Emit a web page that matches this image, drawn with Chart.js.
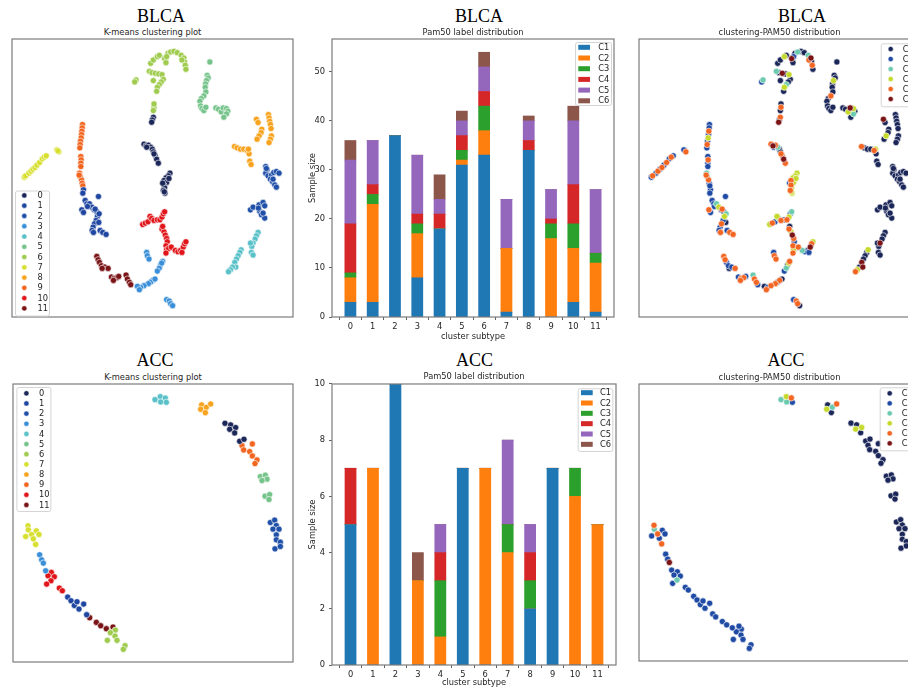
<!DOCTYPE html>
<html><head><meta charset="utf-8">
<script src="https://cdn.jsdelivr.net/npm/chart.js@4/dist/chart.umd.min.js"></script>
<style>
html,body{margin:0;padding:0;background:#fff;overflow:hidden;width:908px;height:687px;}
#wrap{position:relative;width:908px;height:687px;overflow:hidden;background:#fff;}
canvas{position:absolute;}
.big{position:absolute;font-family:"Liberation Serif","DejaVu Serif",serif;font-size:18px;color:#000;transform:translate(-50%,-50%);white-space:nowrap;line-height:1;}
.sub{position:absolute;font-family:"DejaVu Sans",sans-serif;font-size:8.3px;color:#262626;transform:translate(-50%,-50%);white-space:nowrap;line-height:1;}
</style></head>
<body><div id="wrap"></div>
<script>
// ---------------- DATA ----------------
const subtypes = [0,1,2,3,4,5,6,7,8,9,10,11];
const pamLabels = ['C1','C2','C3','C4','C5','C6'];
const clusterLabels = ['0','1','2','3','4','5','6','7','8','9','10','11'];

// BLCA Pam50 label distribution (stacked counts per cluster subtype)
const blcaC1 = [3,3,37,8,18,31,33,1,34,0,3,1];
const blcaC2 = [5,20,0,9,0,1,5,13,0,16,11,10];
const blcaC3 = [1,2,0,2,0,2,5,0,0,3,5,2];
const blcaC4 = [10,2,0,2,3,3,3,0,2,1,8,0];
const blcaC5 = [13,9,0,12,3,3,5,10,4,6,13,13];
const blcaC6 = [4,0,0,0,5,2,3,0,1,0,3,0];
const blcaYTicks = [0,10,20,30,40,50];
const blcaYMax = 56.7;

// ACC Pam50 label distribution
const accC1 = [5,0,10,0,0,7,0,0,2,7,0,0];
const accC2 = [0,7,0,3,1,0,7,4,0,0,6,5];
const accC3 = [0,0,0,0,2,0,0,1,1,0,1,0];
const accC4 = [2,0,0,0,1,0,0,0,1,0,0,0];
const accC5 = [0,0,0,0,1,0,0,3,1,0,0,0];
const accC6 = [0,0,0,1,0,0,0,0,0,0,0,0];
const accYTicks = [0,2,4,6,8,10];
const accYMax = 10;

// BLCA embedding points per k-means cluster: [dim1, dim2, pam50 label index 1..6]
const blcaK0 = [[460,262,5],[457,270,1],[455,277,6],[432,343,5],[438,348,6],[445,346,5],[452,352,3],[457,358,1],[460,366,1],[465,376,5],[470,388,6],[475,400,5],[510,430,4],[505,438,4],[498,444,4],[492,452,5],[500,458,4],[492,466,5],[494,474,4],[490,482,5],[495,490,4],[488,460,2],[440,352,2],[462,372,5],[507,446,4],[493,486,4]];
const blcaK1 = [[250,480,2],[248,490,2],[255,512,2],[260,522,2],[245,540,5],[250,548,2],[268,522,3],[275,532,4],[282,540,2],[290,546,2],[295,500,2],[292,560,4],[288,572,2],[283,582,5],[279,592,2],[276,602,2],[280,608,5],[300,602,2],[308,608,5],[318,614,5],[296,578,1],[262,530,2],[297,552,3],[285,538,5]];
const blcaK2 = [[798,410,1],[802,420,1],[798,430,1],[805,438,1],[815,436,1],[822,428,1],[830,425,1],[838,430,1],[812,448,1],[818,455,1],[825,465,1],[830,472,1],[752,540,1],[760,532,1],[778,525,1],[790,518,1],[795,528,1],[780,545,1],[785,555,1],[795,565,1],[790,550,1],[776,535,1],[800,416,1],[820,448,1]];
const blcaK3 = [[440,668,2],[442,678,5],[447,688,5],[488,695,5],[482,705,1],[478,715,3],[472,724,2],[458,752,5],[452,757,2],[445,762,5],[432,768,5],[422,773,2],[412,770,1],[418,780,5],[500,810,2],[508,814,5],[512,822,5],[518,828,1],[465,748,1],[485,700,4]];
const blcaK4 = [[775,608,1],[770,618,1],[766,628,1],[760,640,6],[756,650,1],[755,668,1],[760,676,1],[724,660,4],[720,668,1],[715,678,1],[710,688,1],[705,698,6],[708,712,6],[698,712,1],[692,720,4],[686,726,5],[752,640,1]];
const blcaK5 = [[630,96,1],[622,136,1],[625,144,1],[620,152,4],[617,162,1],[616,172,1],[618,186,1],[612,198,5],[604,206,1],[600,214,1],[602,228,1],[606,236,1],[612,242,1],[618,232,1],[648,234,1],[656,238,1],[664,246,4],[670,234,6],[680,236,4],[684,244,1],[680,252,3],[672,262,1]];
const blcaK6 = [[408,150,3],[404,156,2],[448,124,3],[456,128,1],[452,100,1],[460,90,1],[466,130,6],[476,132,1],[486,134,4],[490,148,1],[484,156,1],[478,164,3],[472,172,4],[470,184,1],[460,152,1],[472,80,4],[478,76,1],[494,86,6],[498,98,1],[504,70,1],[512,66,3],[522,64,1],[532,68,1],[544,76,3],[552,84,6],[554,96,1],[556,106,5],[558,118,1],[462,232,5],[460,242,1],[462,222,1],[500,80,2],[546,90,5]];
const blcaK7 = [[72,442,2],[76,438,5],[86,430,2],[92,424,5],[98,418,2],[104,413,5],[110,406,2],[118,398,5],[126,387,2],[132,382,5],[138,378,2],[170,360,2],[176,366,5],[173,363,1]];
const blcaK8 = [[770,268,6],[775,278,1],[806,254,1],[808,264,1],[810,274,1],[812,284,1],[814,296,1],[815,318,1],[812,328,1],[808,338,1],[786,298,1],[784,308,1],[778,318,4],[772,328,1],[704,350,5],[712,354,1],[722,358,1],[732,358,1],[742,362,5],[748,372,1],[750,394,1],[754,404,1],[746,358,4]];
const blcaK9 = [[247,284,2],[246,294,2],[245,304,5],[244,314,2],[243,324,4],[241,334,2],[240,344,5],[239,354,2],[242,380,2],[243,390,5],[242,400,2],[242,410,2],[238,430,3],[240,440,3],[244,450,5],[246,460,2],[248,468,2],[237,436,5]];
const blcaK10 = [[428,584,4],[436,580,5],[444,576,2],[450,560,4],[455,566,3],[462,572,5],[472,570,2],[480,570,5],[486,562,4],[490,552,2],[494,546,3],[486,598,5],[492,606,4],[496,616,6],[500,626,5],[502,636,2],[498,648,5],[500,660,4],[506,656,3],[514,652,5],[526,662,3],[534,666,2],[542,662,1],[550,652,6],[554,642,5],[558,636,4],[488,590,1],[498,670,5],[546,668,2]];
const blcaK11 = [[290,680,5],[294,690,5],[298,698,2],[304,708,2],[314,712,2],[324,716,5],[334,742,2],[342,746,5],[350,744,5],[356,740,2],[378,736,3],[382,748,5],[388,758,5],[392,765,2],[340,752,5],[306,716,1]];

// ACC embedding points per k-means cluster: [dim1, dim2, pam50 label index 1..6]
const accK0 = [[676,160,1],[693,165,1],[708,173,4],[690,178,4],[705,189,1],[720,214,1],[733,208,1]];
const accK1 = [[204,682,2],[214,693,2],[224,707,2],[232,696,2],[238,718,2],[252,703,2],[261,735,2]];
const accK2 = [[812,458,1],[825,451,1],[830,467,1],[820,478,1],[838,478,1],[830,495,1],[830,510,1],[842,517,1],[826,537,1],[842,530,1]];
const accK3 = [[120,555,2],[126,570,2],[131,580,6],[138,603,2]];
const accK4 = [[466,89,3],[482,80,4],[497,84,5],[483,96,3],[500,97,2]];
const accK5 = [[782,320,1],[797,316,1],[802,328,1],[787,332,1],[796,379,1],[810,374,1],[808,389,1]];
const accK6 = [[347,781,2],[332,789,2],[346,799,2],[323,812,2],[352,812,2],[376,828,2],[371,839,2]];
const accK7 = [[85,468,5],[86,480,3],[78,500,2],[96,494,5],[110,483,2],[118,494,2],[101,507,2],[108,524,5]];
const accK8 = [[606,105,1],[620,112,3],[633,102,5],[603,118,4],[617,128,1]];
const accK9 = [[727,227,1],[758,222,1],[732,240,1],[750,245,1],[758,258,1],[772,270,1],[766,281,1]];
const accK10 = [[155,608,2],[145,618,2],[164,621,2],[154,633,3],[141,643,2],[179,655,2],[188,663,2]];
const accK11 = [[270,744,2],[290,758,2],[303,768,2],[320,777,2],[340,772,2]];

const blcaRangeX = [35,880], blcaRangeY = [27,862];
const accRangeX = [40,880], accRangeY = [42,877];

// ---------------- STYLE ----------------
const barColors = ['#1f77b4','#ff7f0e','#2ca02c','#d62728','#9467bd','#8c564b'];
const kmColors = ['#1c2759','#1f46a0','#2150a8','#3a8fd8','#5bc1c9','#76c48b','#9fcb4e','#d7df2f','#f8a31d','#f2651f','#e0161b','#7a1416'];
const pamColors = ['#1c2759','#1f4ba5','#6ccab0','#c5d92d','#f26522','#7a1416'];
const FONT = 'DejaVu Sans';

Chart.defaults.font.family = FONT;
Chart.defaults.font.size = 8.3;
Chart.defaults.color = '#262626';

const wrap = document.getElementById('wrap');
function makeCanvas(l,t,w,h){
  const c = document.createElement('canvas');
  c.width = w; c.height = h;
  c.style.left = l+'px'; c.style.top = t+'px';
  c.style.width = w+'px'; c.style.height = h+'px';
  wrap.appendChild(c); return c;
}
function addText(cls, txt, x, y){
  const d = document.createElement('div');
  d.className = cls; d.textContent = txt;
  d.style.left = x+'px'; d.style.top = y+'px';
  wrap.appendChild(d);
}

const framePlugin = {
  id:'frame',
  afterDraw(chart){
    const {ctx, chartArea:a} = chart;
    ctx.save(); ctx.strokeStyle = '#7c7c7c'; ctx.lineWidth = 1.2;
    ctx.strokeRect(a.left, a.top, a.right-a.left, a.bottom-a.top);
    ctx.restore();
  }
};
const legendPlugin = {
  id:'mplLegend',
  afterDraw(chart, args, o){
    if(!o || !o.items) return;
    const ctx = chart.ctx, a = chart.chartArea;
    const n = o.items.length, w = o.width, h = o.height;
    let x, y;
    if(o.corner === 'll'){ x = a.left + o.dx; y = a.bottom - o.dy - h; }
    else if(o.corner === 'ul'){ x = a.left + o.dx; y = a.top + o.dy; }
    else { x = a.right - o.dx - w; y = a.top + o.dy; }
    ctx.save();
    ctx.beginPath();
    if(ctx.roundRect) ctx.roundRect(x+0.5, y+0.5, w, h, 2); else ctx.rect(x+0.5,y+0.5,w,h);
    ctx.fillStyle = 'rgba(255,255,255,0.85)'; ctx.fill();
    ctx.strokeStyle = '#d4d4d4'; ctx.lineWidth = 1; ctx.stroke();
    ctx.font = '8.3px "DejaVu Sans"'; ctx.textBaseline = 'middle'; ctx.textAlign = 'left';
    for(let i=0;i<n;i++){
      const it = o.items[i];
      const cy = y + o.first + i*o.rowH;
      if(o.shape === 'rect'){
        ctx.fillStyle = it.color;
        ctx.fillRect(x + o.markerX, cy - 2.5, 11.7, 5);
      } else {
        ctx.beginPath(); ctx.arc(x + o.markerX, cy, 2.6, 0, Math.PI*2);
        ctx.fillStyle = it.color; ctx.fill();
        ctx.strokeStyle = '#fff'; ctx.lineWidth = 0.5; ctx.stroke();
      }
      ctx.fillStyle = '#262626';
      ctx.fillText(it.label, x + o.textX, cy + 0.5);
    }
    ctx.restore();
  }
};

function toXY(arr){ return arr.map(p => ({x:p[0], y:p[1]})); }

function scatterPanel(box, xr, yr, datasets, legend){
  const c = makeCanvas(box[0]-1, box[1]-1, box[2]+2, box[3]+2);
  new Chart(c, {
    type:'scatter',
    data:{datasets},
    options:{
      responsive:false, animation:false, events:[],
      layout:{padding:1, autoPadding:false},
      scales:{
        x:{type:'linear', display:false, min:xr[0], max:xr[1]},
        y:{type:'linear', display:false, min:yr[0], max:yr[1], reverse:true}
      },
      plugins:{legend:{display:false}, tooltip:{enabled:false}, mplLegend:legend}
    },
    plugins:[framePlugin, legendPlugin]
  });
}
function pointStyle(color){
  return {backgroundColor:color, borderColor:'#ffffff', pointRadius:3.1, pointBorderWidth:0.6, pointBackgroundColor:color, pointBorderColor:'#ffffff'};
}
function kmDatasets(clusters){
  return clusters.map((pts,k)=>Object.assign({label:clusterLabels[k], data:toXY(pts)}, pointStyle(kmColors[k])));
}
function pamDatasets(clusters){
  const all = [].concat(...clusters);
  return pamLabels.map((lab,k)=>Object.assign({label:lab, order:6-k,
    data: toXY(all.filter(p => p[2] === k+1))}, pointStyle(pamColors[k])));
}

function barPanel(cv, pad, xH, xTickPad, xTitlePad, series, yMax, yTicks, legend){
  const c = makeCanvas(cv[0], cv[1], cv[2], cv[3]);
  const datasets = series.map((vals,k)=>({
    label:pamLabels[k],
    data: subtypes.map((s,i)=>({x:s, y:vals[i]})),
    backgroundColor: barColors[k], borderWidth:0, barThickness:11.1
  }));
  new Chart(c, {
    type:'bar',
    data:{datasets},
    options:{
      responsive:false, animation:false, events:[],
      layout:{padding:pad, autoPadding:false},
      scales:{
        x:{type:'linear', min:-0.825, max:11.825, stacked:true, offset:false,
           grid:{display:true, drawOnChartArea:false, drawTicks:true, tickLength:3, color:'#3a3a3a', lineWidth:0.8},
           border:{display:false},
           ticks:{padding:xTickPad, autoSkip:false, maxRotation:0, color:'#262626', font:{family:FONT, size:8.3}},
           afterBuildTicks: s => { s.ticks = subtypes.map(v => ({value:v})); },
           afterFit: s => { s.height = xH; },
           title:{display:true, text:'cluster subtype', color:'#262626', font:{family:FONT, size:8.3}, padding:{top:0, bottom:xTitlePad}}
        },
        y:{type:'linear', min:0, max:yMax, stacked:true,
           grid:{display:true, drawOnChartArea:false, drawTicks:true, tickLength:3, color:'#3a3a3a', lineWidth:0.8},
           border:{display:false},
           ticks:{padding:4, color:'#262626', font:{family:FONT, size:8.3}},
           afterBuildTicks: s => { s.ticks = yTicks.map(v => ({value:v})); },
           afterFit: s => { s.width = 32; },
           title:{display:true, text:'Sample size', color:'#262626', font:{family:FONT, size:8.3}, padding:{top:7.7, bottom:0}}
        }
      },
      plugins:{legend:{display:false}, tooltip:{enabled:false}, mplLegend:legend}
    },
    plugins:[framePlugin, legendPlugin]
  });
}

const blcaClusters = [blcaK0,blcaK1,blcaK2,blcaK3,blcaK4,blcaK5,blcaK6,blcaK7,blcaK8,blcaK9,blcaK10,blcaK11];
const accClusters = [accK0,accK1,accK2,accK3,accK4,accK5,accK6,accK7,accK8,accK9,accK10,accK11];
const kmItems = clusterLabels.map((l,i)=>({label:l, color:kmColors[i]}));
const pamItems = pamLabels.map((l,i)=>({label:l, color:pamColors[i]}));
const barItems = pamLabels.map((l,i)=>({label:l, color:barColors[i]}));

// ---- top row: BLCA ----
scatterPanel([12,39,281,278], blcaRangeX, blcaRangeY, kmDatasets(blcaClusters),
  {items:kmItems, corner:'ll', dx:3, dy:1.5, width:34, height:125, first:4.9, rowH:10.27, markerX:9.3, textX:22.5, shape:'circle'});
barPanel([300,30,330,320], {left:0, top:9, right:16, bottom:0}, 33, 1.5, 8,
  [blcaC1,blcaC2,blcaC3,blcaC4,blcaC5,blcaC6], blcaYMax, blcaYTicks,
  {items:barItems, corner:'ur', dx:3, dy:3, width:36, height:63, first:5.3, rowH:10.7, markerX:3.3, textX:23.3, shape:'rect'});
scatterPanel([639,39,281,278], blcaRangeX, blcaRangeY, pamDatasets(blcaClusters),
  {items:pamItems, corner:'ur', dx:2.3, dy:4.3, width:37, height:63, first:5.7, rowH:10, markerX:10, textX:22, shape:'circle'});

// ---- bottom row: ACC ----
scatterPanel([13,384,280,278], accRangeX, accRangeY, kmDatasets(accClusters),
  {items:kmItems, corner:'ul', dx:3.4, dy:3, width:34, height:124, first:6.3, rowH:10.15, markerX:10, textX:22.6, shape:'circle'});
barPanel([300,375,330,320], {left:0, top:8, right:14, bottom:0}, 30, 2, 7.3,
  [accC1,accC2,accC3,accC4,accC5,accC6], accYMax, accYTicks,
  {items:barItems, corner:'ur', dx:3.7, dy:4.3, width:34.6, height:62.7, first:4.4, rowH:10.33, markerX:3.3, textX:22.3, shape:'rect'});
scatterPanel([639,384,280,277], accRangeX, accRangeY, pamDatasets(accClusters),
  {items:pamItems, corner:'ur', dx:2.3, dy:3.3, width:37, height:63, first:6, rowH:10, markerX:10, textX:22, shape:'circle'});

// ---- titles ----
addText('big','BLCA',161,16); addText('big','BLCA',479,16); addText('big','BLCA',802,16);
addText('big','ACC',155,360); addText('big','ACC',474.5,360); addText('big','ACC',786,360);
addText('sub','K-means clustering plot',152.5,31.5);
addText('sub','Pam50 label distribution',473,31.5);
addText('sub','clustering-PAM50 distribution',779.5,31.5);
addText('sub','K-means clustering plot',153,376.5);
addText('sub','Pam50 label distribution',474,376);
addText('sub','clustering-PAM50 distribution',779.5,376.5);
</script>
</body></html>
